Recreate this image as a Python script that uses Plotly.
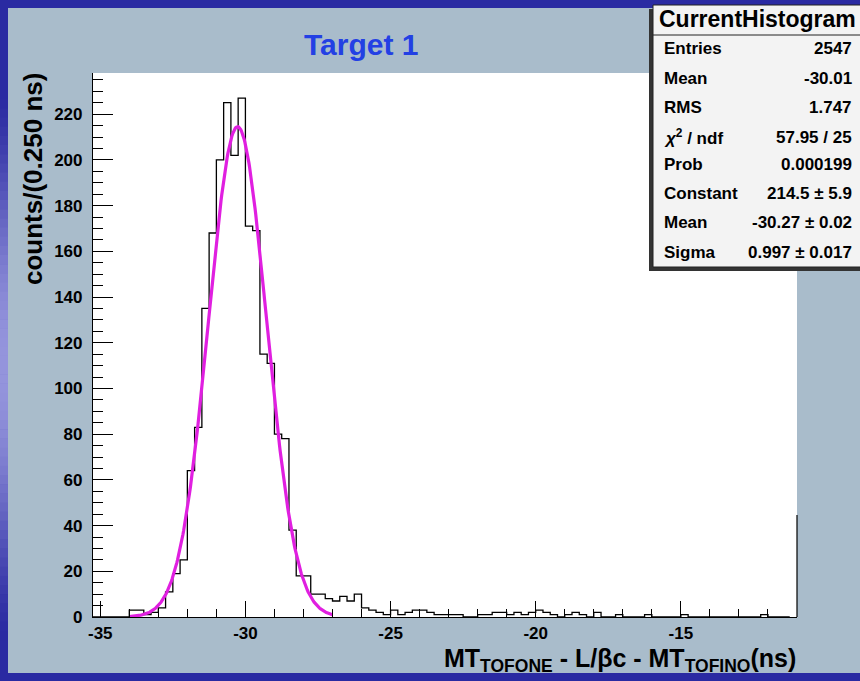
import numpy as np
import plotly.graph_objects as go

# ---------------- data ----------------
bin_width = 0.25
x_start = -35.25
counts = [
    0, 0, 0, 0, 0,                      # -35.25 .. -34.25
    3, 3, 1, 2, 4, 11, 19, 25,          # -34.0 .. -32.25
    64, 83, 135, 168, 200, 225, 202, 227,   # -32.0 .. -30.25
    171, 169, 115, 111, 80, 78, 38, 18,     # -30.0 .. -28.25
    18, 10, 10, 8, 7, 9, 7, 10,             # -28.0 .. -26.25
    4, 3, 2, 1, 3, 1, 2, 3,                 # -26.0 .. -24.25
    3, 2, 1, 1, 1, 1, 0, 0,                 # -24.0 .. -22.25
    1, 1, 2, 2, 1, 2, 1, 2,                 # -22.0 .. -20.25
    3, 2, 1, 0, 1, 2, 1, 0,                 # -20.0 .. -18.25
    2, 0, 0, 1, 0, 0, 0, 1,                 # -18.0 .. -16.25
    0, 0, 0, 0, 1, 0, 0, 0,                 # -16.0 .. -14.25
    0, 0, 0, 0, 0, 0, 0, 1,                 # -14.0 .. -12.25 (approx)
    0, 0, 0,                                # -12.0 .. -11.5
]
fit_constant = 214.5
fit_mean = -30.27
fit_sigma = 0.997
fit_range = (-34.0, -27.0)

stats_labels = ["Entries", "Mean", "RMS", "<i>χ</i><sup>2</sup> / ndf", "Prob",
                "Constant", "Mean", "Sigma"]
stats_values = ["2547", "-30.01", "1.747", "57.95 / 25", "0.000199",
                "214.5 ± 5.9", "-30.27 ± 0.02", "0.997 ± 0.017"]

x_tick_vals = [-35, -30, -25, -20, -15]
x_tick_text = ["-35", "-30", "-25", "-20", "-15"]
y_tick_vals = [0, 20, 40, 60, 80, 100, 120, 140, 160, 180, 200, 220]
y_tick_text = ["0", "20", "40", "60", "80", "100", "120", "140", "160", "180", "200", "220"]

x_range = [-35.25, -11.0]
y_range = [0, 238]

# ---------------- geometry helpers ----------------
W, H = 860, 681
L, R, T, B = 93, 797, 73, 617   # frame in pixels


def px(xp):
    return (xp - L) / (R - L)


def py(yp):
    return (B - yp) / (B - T)


edges = [x_start + i * bin_width for i in range(len(counts) + 1)]
step_x = edges
step_y = counts + [counts[-1]]

fx = np.linspace(fit_range[0], fit_range[1], 300)
fy = fit_constant * np.exp(-0.5 * ((fx - fit_mean) / fit_sigma) ** 2)

font_fam = "Liberation Sans, Arial, Helvetica, sans-serif"

fig = go.Figure()
fig.add_trace(go.Scatter(x=step_x, y=step_y, mode="lines", line_shape="hv",
                         line=dict(color="black", width=1.3), hoverinfo="skip"))
fig.add_trace(go.Scatter(x=fx, y=fy, mode="lines",
                         line=dict(color="#e01fe0", width=3.2), hoverinfo="skip"))

shapes = []
# grey panel
shapes.append(dict(type="rect", xref="paper", yref="paper", layer="below",
                   x0=px(8), x1=px(862), y0=py(673), y1=py(8),
                   fillcolor="#a9bccb", line=dict(width=0)))
# left gradient strip of the slide (smooth)
dark = np.array([0x2a, 0x2a, 0xa2])
light = np.array([0x95, 0x95, 0xdd])
nseg = 60
y_top, y_bot = 90, 640
for i in range(nseg):
    t = (i + 0.5) / nseg
    w = np.sin(np.pi * t) ** 1.5
    c = dark + (light - dark) * w
    col = "rgb(%d,%d,%d)" % tuple(int(v) for v in c)
    ya = y_top + i * (y_bot - y_top) / nseg
    yb = ya + (y_bot - y_top) / nseg + 0.6
    shapes.append(dict(type="rect", xref="paper", yref="paper", layer="below",
                       x0=px(0), x1=px(8), y0=py(yb), y1=py(ya),
                       fillcolor=col, line=dict(width=0)))
# white frame area
shapes.append(dict(type="rect", xref="paper", yref="paper", layer="below",
                   x0=0, x1=1, y0=0, y1=1, fillcolor="white", line=dict(width=0)))
# partial right frame line
shapes.append(dict(type="line", xref="paper", yref="paper", layer="above",
                   x0=1, x1=1, y0=0, y1=py(515), line=dict(color="black", width=1.2)))
# stats box shadow and box
shapes.append(dict(type="rect", xref="paper", yref="paper", layer="above",
                   x0=px(649), x1=px(862), y0=py(271), y1=py(9),
                   fillcolor="#333333", line=dict(width=0)))
shapes.append(dict(type="rect", xref="paper", yref="paper", layer="above",
                   x0=px(653), x1=px(862), y0=py(267), y1=py(5),
                   fillcolor="#f3f3f3", line=dict(color="#222222", width=1)))
shapes.append(dict(type="line", xref="paper", yref="paper", layer="above",
                   x0=px(653), x1=px(862), y0=py(35), y1=py(35),
                   line=dict(color="#222222", width=1)))

annotations = []
annotations.append(dict(text="Target 1", xref="paper", yref="paper",
                        x=px(361), y=py(45), xanchor="center", yanchor="middle",
                        showarrow=False,
                        font=dict(family=font_fam, size=30, color="#2340e4", weight="bold")))
annotations.append(dict(text="counts/(0.250 ns)", xref="paper", yref="paper",
                        x=px(33), y=py(71), xanchor="center", yanchor="top",
                        textangle=-90, showarrow=False,
                        font=dict(family=font_fam, size=26, color="black", weight="bold")))
annotations.append(dict(text="MT<sub>TOFONE</sub> - L/βc - MT<sub>TOFINO</sub>(ns)",
                        xref="paper", yref="paper", x=px(798), y=py(660),
                        xanchor="right", yanchor="middle", showarrow=False,
                        font=dict(family=font_fam, size=25, color="black", weight="bold")))
annotations.append(dict(text="CurrentHistogram", xref="paper", yref="paper",
                        x=px(757), y=py(19), xanchor="center", yanchor="middle",
                        showarrow=False,
                        font=dict(family=font_fam, size=23, color="black", weight="bold")))
row_y = [49, 79, 107, 137, 165, 193, 222, 252]
for lab, val, yy in zip(stats_labels, stats_values, row_y):
    annotations.append(dict(text=lab, xref="paper", yref="paper", x=px(662), y=py(yy),
                            xanchor="left", yanchor="middle", showarrow=False,
                            font=dict(family=font_fam, size=17, color="black", weight="bold")))
    annotations.append(dict(text=val, xref="paper", yref="paper", x=px(854), y=py(yy),
                            xanchor="right", yanchor="middle", showarrow=False,
                            font=dict(family=font_fam, size=17, color="black", weight="bold")))

tick_font = dict(family=font_fam, size=17, color="black", weight="bold")

fig.update_layout(
    width=W, height=H,
    margin=dict(l=L, r=W - R, t=T, b=H - B, pad=0),
    paper_bgcolor="#2a2aa2",
    plot_bgcolor="rgba(0,0,0,0)",
    showlegend=False,
    shapes=shapes,
    annotations=annotations,
    xaxis=dict(range=x_range, showgrid=False, zeroline=False,
               showline=True, linecolor="black", linewidth=1.2,
               ticks="inside", ticklen=16, tickwidth=1.2, tickcolor="black",
               tickmode="array", tickvals=x_tick_vals, ticktext=x_tick_text,
               minor=dict(ticks="inside", ticklen=8, dtick=1, tick0=-35,
                          tickcolor="black", tickwidth=1.2, showgrid=False),
               tickfont=tick_font),
    yaxis=dict(range=y_range, showgrid=False, zeroline=False,
               showline=True, linecolor="black", linewidth=1.2,
               ticks="inside", ticklen=20, tickwidth=1.2, tickcolor="black",
               tickmode="array", tickvals=y_tick_vals, ticktext=y_tick_text,
               ticklabelstandoff=6,
               minor=dict(ticks="inside", ticklen=10, dtick=5, tick0=0,
                          tickcolor="black", tickwidth=1.2, showgrid=False),
               tickfont=tick_font),
)

fig.write_html("out.html")
